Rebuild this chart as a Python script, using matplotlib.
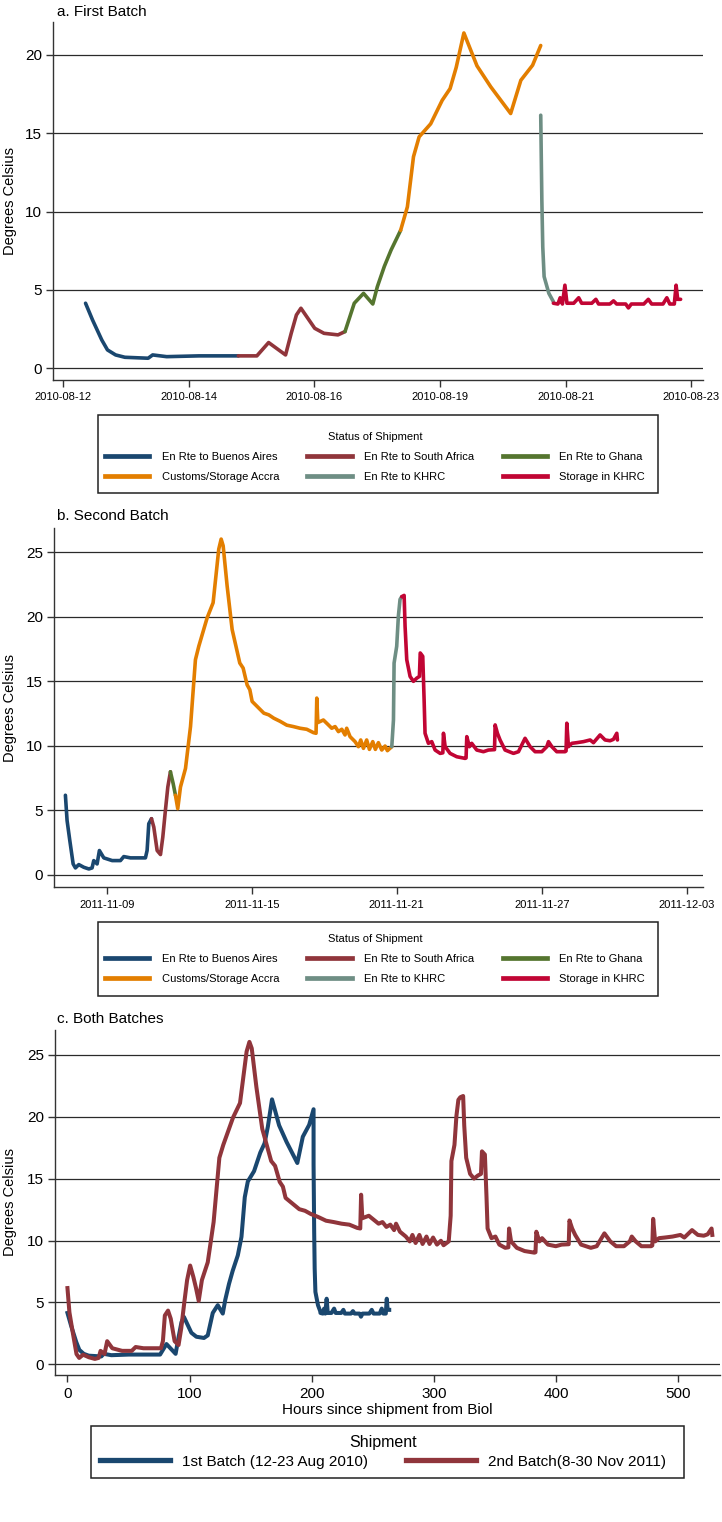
import matplotlib
matplotlib.use("Agg")
import matplotlib.pyplot as plt
from matplotlib.lines import Line2D
from matplotlib.patches import Rectangle

# ---------------- data (hours since shipment, degrees C) ----------------
status_labels = ["En Rte to Buenos Aires", "En Rte to South Africa", "En Rte to Ghana",
                 "Customs/Storage Accra", "En Rte to KHRC", "Storage in KHRC"]
status_colors = ["#1a476f", "#90353b", "#55752f", "#e37e00", "#6e8e84", "#c10534"]

# First batch (12-23 Aug 2010)
b1_buenos_h = [0, 3.1, 7.2, 9.7, 13.3, 17.4, 27.7, 29.7, 35.9, 50.2, 67.6]
b1_buenos_t = [4.15, 3.08, 1.8, 1.17, 0.85, 0.7, 0.64, 0.85, 0.74, 0.79, 0.79]
b1_safrica_h = [67.6, 75.8, 81.0, 88.5, 91.0, 93.3, 95.3, 101.4, 105.5, 111.7, 114.8]
b1_safrica_t = [0.79, 0.79, 1.64, 0.85, 2.23, 3.4, 3.83, 2.55, 2.23, 2.13, 2.34]
b1_ghana_h = [114.8, 118.9, 123.0, 127.1, 129.1, 132.2, 135.2, 139.4]
b1_ghana_t = [2.34, 4.15, 4.78, 4.1, 5.2, 6.5, 7.55, 8.8]
b1_accra_h = [139.4, 142.4, 145.1, 147.6, 152.7, 157.8, 161.3, 164.0, 167.4, 173.2,
              179.3, 188.1, 192.6, 197.8, 201.4]
b1_accra_t = [8.8, 10.3, 13.5, 14.77, 15.6, 17.1, 17.85, 19.2, 21.4, 19.3,
              17.96, 16.26, 18.38, 19.34, 20.6]
b1_tokhrc_h = [201.4, 201.9, 202.3, 202.9, 205.0, 207.0]
b1_tokhrc_t = [16.15, 10.7, 7.75, 5.85, 4.78, 4.25]
b1_khrc_h = [207, 209, 210, 211, 212.1, 213, 216, 218.2, 219.5, 224, 225.8, 227, 232,
             233.6, 235, 239, 240.2, 241.5, 247, 249, 250.5, 255.5, 257.2, 258.5, 260.5,
             261.3, 262, 263.3]
b1_khrc_t = [4.15, 4.1, 4.5, 4.1, 5.3, 4.15, 4.15, 4.5, 4.15, 4.15, 4.4, 4.1, 4.1,
             4.3, 4.1, 4.1, 3.85, 4.1, 4.1, 4.4, 4.1, 4.1, 4.5, 4.1, 4.1,
             5.3, 4.4, 4.4]

# Second batch (8-30 Nov 2011)
b2_buenos_h = [0, 1.6, 4.2, 7.4, 9.6, 12.8, 17.6, 22.4, 25.5, 27.1, 30.3, 32.5, 36.7,
               44.7, 52.6, 55.8, 62.2, 76.5, 78.1, 79.7, 82.3]
b2_buenos_t = [6.16, 4.2, 2.65, 0.83, 0.52, 0.78, 0.57, 0.44, 0.52, 1.09, 0.83, 1.87, 1.3,
               1.09, 1.09, 1.4, 1.3, 1.3, 1.87, 3.95, 4.34]
b2_safrica_h = [82.3, 84.5, 87.7, 90.9, 93.1, 95.6, 97.9, 100.4]
b2_safrica_t = [4.34, 3.69, 1.87, 1.56, 2.91, 4.99, 6.8, 7.98]
b2_ghana_h = [100.4, 103.0, 105.2]
b2_ghana_t = [7.98, 7.07, 6.16]
b2_accra_h = [105.2, 107.4, 110.0, 114.8, 119.6, 124.3, 127.5, 135.5, 141.2, 146.6, 148.9,
              150.8, 154.6, 159.4, 166.7, 169.9, 173.7, 176.3, 178.5, 183.3, 189.7, 194.4,
              199.2, 205.2, 211.6, 217.9, 224.3, 230.7, 237.1, 239.6, 240.3, 241.3, 246.6,
              251.4, 254.6, 257.8, 261.0, 264.2, 267.3, 268.9, 272.1, 276.9, 280.1, 282.3,
              284.9, 288.0, 290.6, 293.8, 296.3, 299.2, 302.4, 305.6, 307.8, 312.0]
b2_accra_t = [6.16, 5.12, 6.8, 8.24, 11.49, 16.68, 17.72, 19.93, 21.1, 25.26, 26.04,
              25.52, 22.4, 19.02, 16.42, 16.03, 14.73, 14.35, 13.44, 13.05, 12.53, 12.4,
              12.14, 11.9, 11.6, 11.49, 11.36, 11.28, 11.02, 10.97, 13.7, 11.8, 12.0,
              11.62, 11.36, 11.49, 11.1, 11.28, 10.84, 11.36, 10.71, 10.32, 9.93, 10.45,
              9.8, 10.45, 9.72, 10.32, 9.72, 10.24, 9.67, 9.98, 9.62, 9.93]
b2_tokhrc_h = [312.0, 313.6, 314.2, 316.7, 318.3, 319.9, 321.5]
b2_tokhrc_t = [9.93, 12.0, 16.42, 17.72, 20.06, 21.36, 21.57]
b2_khrc_h = [321.5, 323.8, 324.7, 326.3, 329.5, 332.7, 335.9, 338.4, 339.2, 341.6, 342.9,
             343.8, 347.0, 350.2, 353.4, 358.2, 360.8, 361.4, 363.0, 367.7, 374.1, 382.1,
             383.0, 383.7, 386.2, 388.4, 393.2, 399.6, 404.4, 410.2, 410.8, 413.0, 415.5,
             420.3, 428.3, 433.1, 439.4, 444.2, 449.0, 455.4, 460.2, 461.8, 465.0, 469.7,
             477.7, 478.6, 479.3, 480.9, 484.1, 488.8, 495.2, 501.6, 504.8, 511.1, 515.9,
             520.7, 523.9, 527.1, 527.7]
b2_khrc_t = [21.57, 21.67, 19.28, 16.68, 15.38, 15.0, 15.25, 15.38, 17.2, 16.94, 13.57,
             10.97, 10.19, 10.32, 9.67, 9.41, 9.45, 10.97, 9.93, 9.41, 9.15, 9.02,
             9.05, 10.71, 9.93, 10.19, 9.67, 9.54, 9.67, 9.7, 11.62, 10.97, 10.45,
             9.67, 9.41, 9.54, 10.58, 9.93, 9.54, 9.54, 9.93, 10.32, 9.93, 9.54,
             9.54, 9.6, 11.75, 9.93, 10.19, 10.24, 10.32, 10.45, 10.24, 10.84, 10.45,
             10.39, 10.5, 10.97, 10.45]

batch1 = [(b1_buenos_h, b1_buenos_t), (b1_safrica_h, b1_safrica_t), (b1_ghana_h, b1_ghana_t),
          (b1_accra_h, b1_accra_t), (b1_tokhrc_h, b1_tokhrc_t), (b1_khrc_h, b1_khrc_t)]
batch2 = [(b2_buenos_h, b2_buenos_t), (b2_safrica_h, b2_safrica_t), (b2_ghana_h, b2_ghana_t),
          (b2_accra_h, b2_accra_t), (b2_tokhrc_h, b2_tokhrc_t), (b2_khrc_h, b2_khrc_t)]

# date tick labels (positions in hours since shipment)
a_tick_labels = ["2010-08-12", "2010-08-14", "2010-08-16", "2010-08-19", "2010-08-21", "2010-08-23"]
b_tick_labels = ["2011-11-09", "2011-11-15", "2011-11-21", "2011-11-27", "2011-12-03"]
c_ticks = [0, 100, 200, 300, 400, 500]
batch_labels = ["1st Batch (12-23 Aug 2010)", "2nd Batch(8-30 Nov 2011)"]
batch_colors = ["#1a476f", "#90353b"]

# ---------------- fonts ----------------
FONT = ["Liberation Sans", "DejaVu Sans"]
plt.rcParams["font.family"] = FONT

W, H = 722, 1522
fig = plt.figure(figsize=(W / 100, H / 100), dpi=100)
fig.patch.set_facecolor("white")

GRID = "#2a2a2a"
SP = "#333333"


def px_axes(l, t, r, b):
    return fig.add_axes([l / W, 1 - b / H, (r - l) / W, (b - t) / H])


def style(ax, ylim, yticks, xlim, xticks, xlabels, xfs):
    ax.set_xlim(*xlim)
    ax.set_ylim(*ylim)
    ax.set_yticks(yticks)
    ax.set_xticks(xticks)
    ax.set_xticklabels(xlabels, fontsize=xfs)
    for s in ["top", "right"]:
        ax.spines[s].set_visible(False)
    for s in ["left", "bottom"]:
        ax.spines[s].set_color(SP)
        ax.spines[s].set_linewidth(1.0)
    ax.tick_params(axis="y", length=5, width=1, color=SP, pad=3, labelsize=11)
    ax.tick_params(axis="x", length=5, width=1, color=SP, pad=4)
    for y in yticks:
        ax.axhline(y, color=GRID, lw=0.9, zorder=1)
    ax.set_ylabel("Degrees Celsius", fontsize=10.5)


# legend fills column-major; reorder so rows read like the reference
ORDER = [0, 3, 1, 4, 2, 5]


def status_legend(cy):
    handles = [Line2D([], [], color=status_colors[i], lw=3.4) for i in ORDER]
    labels = [status_labels[i] for i in ORDER]
    fig.legend(handles, labels, ncol=3, loc="center", mode="expand",
               bbox_to_anchor=(105 / W, 1 - cy / H, 540 / W, 0), frameon=False,
               title="Status of Shipment", fontsize=8, title_fontsize=8,
               handlelength=4.0, handletextpad=1.1, labelspacing=0.9,
               borderpad=0, borderaxespad=0)


def box(l, t, r, b):
    fig.patches.append(Rectangle((l / W, 1 - b / H), (r - l) / W, (b - t) / H,
                                 transform=fig.transFigure, fill=False,
                                 ec="#222222", lw=1.1))


def draw_status(ax, batch):
    for (h, t), col in zip(batch, status_colors):
        ax.plot(h, t, color=col, lw=2.6, solid_capstyle="round",
                solid_joinstyle="round", zorder=3)


# ---------------- panel a ----------------
axa = px_axes(53, 22, 703, 380)
draw_status(axa, batch1)
a_ticks = [-10.0 + 55.6 * k for k in range(len(a_tick_labels))]
style(axa, (-0.75, 22.1), [0, 5, 10, 15, 20], (-14.4, 273.2), a_ticks, a_tick_labels, 8)
axa.yaxis.set_label_coords(-0.055, 0.5)
fig.text(57 / W, 1 - 12 / H, "a. First Batch", fontsize=11, va="center", ha="left")
box(98, 415, 658, 493)
status_legend(457)

# ---------------- panel b ----------------
axb = px_axes(54, 528, 703, 887)
draw_status(axb, batch2)
b_ticks = [39.5 + 138.6 * k for k in range(len(b_tick_labels))]
style(axb, (-0.96, 26.9), [0, 5, 10, 15, 20, 25], (-10.9, 609.5), b_ticks, b_tick_labels, 8)
axb.yaxis.set_label_coords(-0.057, 0.5)
fig.text(57 / W, 1 - 516 / H, "b. Second Batch", fontsize=11, va="center", ha="left")
box(98, 922, 658, 996)
status_legend(959)

# ---------------- panel c ----------------
axc = px_axes(55, 1030, 720, 1375)
for batch, col, lab in zip([batch1, batch2], batch_colors, batch_labels):
    hh, tt = [], []
    for h, t in batch:
        hh += list(h)
        tt += list(t)
    axc.plot(hh, tt, color=col, lw=2.9, solid_joinstyle="round", zorder=3, label=lab)
style(axc, (-0.86, 27.0), [0, 5, 10, 15, 20, 25], (-10.2, 534), c_ticks,
      [str(v) for v in c_ticks], 11)
axc.yaxis.set_label_coords(-0.057, 0.5)
axc.set_xlabel("Hours since shipment from Biol", fontsize=11, labelpad=1)
fig.text(57 / W, 1 - 1019 / H, "c. Both Batches", fontsize=11, va="center", ha="left")
box(91, 1426, 684, 1478)
hc = [Line2D([], [], color=c, lw=3.8) for c in batch_colors]
fig.legend(hc, batch_labels, ncol=2, loc="center", mode="expand",
           bbox_to_anchor=(100 / W, 1 - 1452 / H, 566 / W, 0), frameon=False,
           title="Shipment", fontsize=11, title_fontsize=11.5,
           handlelength=4.6, handletextpad=0.8, labelspacing=0.3,
           borderpad=0, borderaxespad=0)

fig.savefig("out.png", dpi=100, facecolor="white")
